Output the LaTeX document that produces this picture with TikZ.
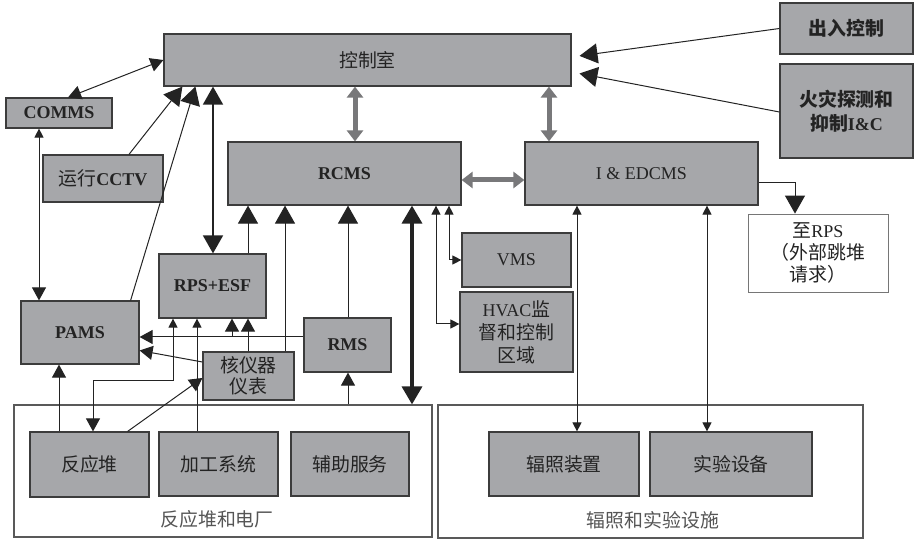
\documentclass[tikz,border=0pt]{standalone}
\usepackage{fontspec}
\setmainfont{Liberation Serif}
\newfontfamily\cjk[Scale=1.05]{Noto Sans CJK SC}
\newcommand\zh[1]{{\cjk #1}}
\usetikzlibrary{arrows.meta,calc}
\definecolor{boxfill}{RGB}{166,167,170}
\definecolor{boxline}{RGB}{60,60,60}
\definecolor{txt}{RGB}{35,35,35}
\definecolor{ln}{RGB}{35,35,35}
\definecolor{garrow}{RGB}{120,120,122}
\definecolor{lbl}{RGB}{85,85,85}
\begin{document}
\begin{tikzpicture}[x=1pt,y=-1pt,
  tipS/.tip={Triangle[length=9pt,width=9pt]},
  tipM/.tip={Triangle[length=13pt,width=14pt]},
  tipL/.tip={Triangle[length=18pt,width=20pt]},
  tipG/.tip={Triangle[length=11pt,width=16pt]},
  box/.style={draw=boxline, fill=boxfill, line width=1.2pt, inner sep=1pt, align=center, text=txt, font=\fontsize{18}{21}\selectfont},
  wbox/.style={draw=boxline!70, fill=white, line width=0.8pt, inner sep=1pt, align=center, text=txt, font=\fontsize{18}{22}\selectfont},
  grp/.style={draw=boxline!85, line width=1.2pt, fill=white},
  lbltext/.style={text=lbl, font=\fontsize{18}{21}\selectfont},
  conn/.style={draw=ln, line width=1pt},
  garr/.style={draw=garrow, line width=5pt, {tipG}-{tipG}}
]
\useasboundingbox (0,0) rectangle (914,540);

% groups
\node[grp, minimum width=418pt, minimum height=132pt] (grpA) at (223,471) {};
\node[grp, minimum width=425pt, minimum height=133pt] (grpB) at (650.5,471.5) {};
\node[lbltext] (lblA) at (217,519) {\zh{反应堆和电厂}};
\node[lbltext] (lblB) at (653,520) {\zh{辐照和实验设施}};

% boxes
\node[box, minimum width=407pt, minimum height=52pt] (ctrl) at (367.5,60) {\zh{控制室}};
\node[box, minimum width=106pt, minimum height=30pt] (comms) at (59,113) {\textbf{COMMS}};
\node[box, minimum width=120pt, minimum height=47pt] (cctv) at (103,178.5) {\zh{运行}\textbf{CCTV}};
\node[box, minimum width=233pt, minimum height=63pt] (rcms) at (344.5,173.5) {\textbf{RCMS}};
\node[box, minimum width=233pt, minimum height=63pt] (edcms) at (641.5,173.5) {I \& EDCMS};
\node[box, minimum width=133pt, minimum height=51pt] (access) at (846.5,28.5) {\bfseries\zh{出入控制}};
\node[box, minimum width=133pt, minimum height=94pt, font=\fontsize{18}{24}\selectfont\bfseries] (fire) at (846.5,111) {\zh{火灾探测和}\\\zh{抑制}I\&C};
\node[wbox, minimum width=140pt, minimum height=78pt] (torps) at (818,253) {\zh{至}RPS\\\zh{（外部跳堆}\\\zh{请求）}};
\node[box, minimum width=109pt, minimum height=54pt] (vms) at (516.5,260) {VMS};
\node[box, minimum width=113pt, minimum height=80pt, font=\fontsize{18}{23}\selectfont] (hvac) at (516.5,332) {HVAC\zh{监}\\\zh{督和控制}\\\zh{区域}};
\node[box, minimum width=107pt, minimum height=64pt] (rpsesf) at (212.5,286) {\textbf{RPS+ESF}};
\node[box, minimum width=87pt, minimum height=54pt] (rms) at (347.5,345) {\textbf{RMS}};
\node[box, minimum width=91pt, minimum height=48pt, font=\fontsize{18}{21}\selectfont] (nuc) at (248.5,376) {\zh{核仪器}\\\zh{仪表}};
\node[box, minimum width=118pt, minimum height=63pt] (pams) at (80,332.5) {\textbf{PAMS}};
\node[box, minimum width=119pt, minimum height=65pt] (reactor) at (89.5,464.5) {\zh{反应堆}};
\node[box, minimum width=119pt, minimum height=64pt] (process) at (218.5,464) {\zh{加工系统}};
\node[box, minimum width=118pt, minimum height=64pt] (aux) at (350,464) {\zh{辅助服务}};
\node[box, minimum width=150pt, minimum height=64pt] (irr) at (564,464) {\zh{辐照装置}};
\node[box, minimum width=162pt, minimum height=64pt] (exp) at (731,464) {\zh{实验设备}};

% lanes
\coordinate (xCP) at (39,0);
\coordinate (xRe) at (59,0);
\coordinate (xR2) at (93,0);
\coordinate (xR3) at (173,0);
\coordinate (xPr) at (197,0);
\coordinate (xES) at (213,0);
\coordinate (xN1) at (248,0);
\coordinate (xN2) at (285,0);
\coordinate (xRm) at (348,0);
\coordinate (xG1) at (355,0);
\coordinate (xTk) at (412,0);
\coordinate (xHv) at (436,0);
\coordinate (xVm) at (449,0);
\coordinate (xG2) at (549,0);
\coordinate (xIr) at (577,0);
\coordinate (xEx) at (707,0);
\coordinate (xTo) at (795,0);
\coordinate (yG) at (0,180);
\coordinate (yTo) at (0,183);
\coordinate (yRm) at (0,337);
\coordinate (yEl) at (0,381);
\coordinate (jb) at (232,337);

% connectors
\draw[conn, {tipM}-{tipM}] ($(comms.north)+(9,0)$) -- (ctrl.west);
\draw[conn, {tipS}-{tipM}] (comms.south -| xCP) -- (pams.north -| xCP);
\draw[conn, -{tipL}] ($(cctv.north)+(26,0)$) -- ($(ctrl.south west)+(19,0)$);
\draw[conn, -{tipL}] ($(pams.north east)+(-9,0)$) -- ($(ctrl.south west)+(32,0)$);
\draw[conn, line width=1.6pt, {tipL}-{tipL}] (ctrl.south -| xES) -- (rpsesf.north -| xES);
\draw[garr] (ctrl.south -| xG1) -- (rcms.north -| xG1);
\draw[garr] (ctrl.south -| xG2) -- (edcms.north -| xG2);
\draw[garr] (rcms.east |- yG) -- (edcms.west |- yG);
\draw[conn, -{tipL}, shorten >=8pt] (access.west) -- ($(ctrl.east)+(0,-3)$);
\draw[conn, -{tipL}, shorten >=8pt] ($(fire.west)+(0,1)$) -- ($(ctrl.east)+(0,12)$);
\draw[conn, -{tipL}] (edcms.east |- yTo) -| (torps.north -| xTo);
\draw[conn, {tipS}-{tipS}] (rcms.south -| xVm) |- (vms.west);
\draw[conn, {tipS}-{tipS}] (rcms.south -| xHv) |- ($(hvac.west)+(0,-8)$);
\draw[draw=ln, line width=3.5pt, {tipL}-{tipL}] (rcms.south -| xTk) -- (grpA.north -| xTk);
\draw[conn, {tipS}-{tipS}] (edcms.south -| xIr) -- (irr.north -| xIr);
\draw[conn, {tipS}-{tipS}] (edcms.south -| xEx) -- (exp.north -| xEx);
\draw[conn, -{tipL}] (rpsesf.north -| xN1) -- (rcms.south -| xN1);
\draw[conn, -{tipL}] (nuc.north -| xN2) -- (rcms.south -| xN2);
\draw[conn, -{tipL}] (rms.north -| xRm) -- (rcms.south -| xRm);
\draw[conn, -{tipM}] (grpA.north -| xRm) -- (rms.south -| xRm);
\draw[conn, -{tipM}] (rms.west |- yRm) -- (pams.east |- yRm);
\draw[conn, -{tipM}] (jb) -- (rpsesf.south -| jb);
\draw[conn, -{tipM}] (nuc.north -| xN1) -- (rpsesf.south -| xN1);
\draw[conn, -{tipM}] ($(nuc.west)+(0,-14)$) -- ($(pams.east)+(0,18)$);
\draw[conn, -{tipM}] (reactor.north -| xRe) -- (pams.south -| xRe);
\draw[conn, {tipS}-{tipM}] (rpsesf.south -| xR3) -- (xR3 |- yEl) -| (reactor.north -| xR2);
\draw[conn, -{tipM}] ($(reactor.north east)+(-22,0)$) -- ($(nuc.west)+(0,2)$);
\draw[conn, -{tipS}] (process.north -| xPr) -- (rpsesf.south -| xPr);
\end{tikzpicture}
\end{document}
